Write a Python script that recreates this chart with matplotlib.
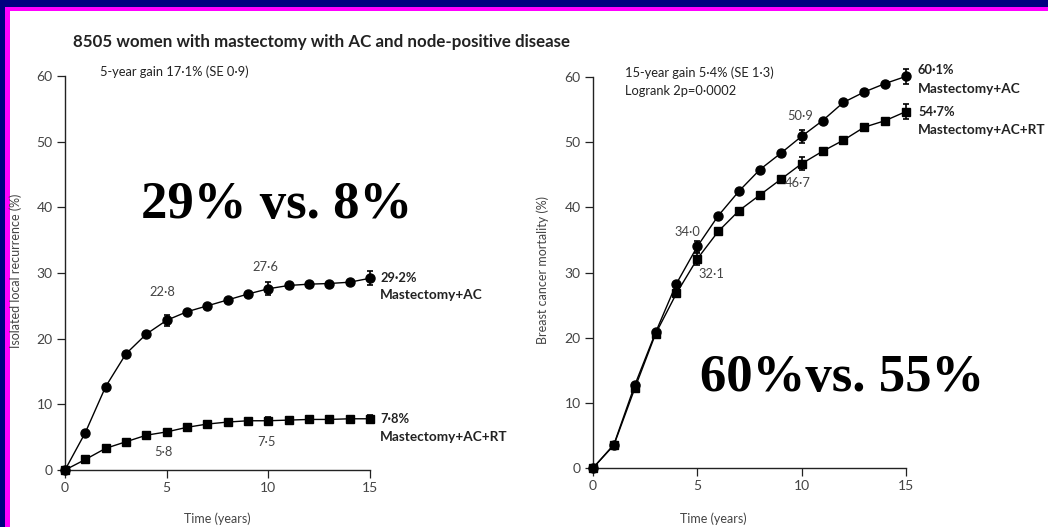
import matplotlib
matplotlib.use("Agg")
import matplotlib.pyplot as plt
from matplotlib.patches import Rectangle

W, H = 1048, 527
DPI = 100

years = list(range(0, 16))

# Isolated local recurrence (%)
lr_ac = [0, 5.7, 12.7, 17.7, 20.7, 22.8, 24.1, 25.0, 25.9, 26.8, 27.6, 28.1, 28.3, 28.4, 28.6, 29.2]
lr_rt = [0, 1.6, 3.3, 4.3, 5.3, 5.8, 6.5, 7.0, 7.3, 7.5, 7.5, 7.6, 7.7, 7.7, 7.8, 7.8]
lr_err_years = [5, 10, 15]
lr_ac_se = [0.8, 1.0, 1.1]
lr_rt_se = [0.4, 0.5, 0.6]

# Breast cancer mortality (%)
bc_ac = [0, 3.6, 12.7, 20.8, 28.3, 34.0, 38.7, 42.5, 45.8, 48.3, 50.9, 53.3, 56.1, 57.7, 59.0, 60.1]
bc_rt = [0, 3.5, 12.2, 20.6, 26.8, 32.1, 36.3, 39.5, 41.9, 44.3, 46.7, 48.6, 50.3, 52.3, 53.3, 54.7]
bc_err_years = [5, 10, 15]
bc_ac_se = [0.8, 1.0, 1.1]
bc_rt_se = [0.9, 1.0, 1.1]

xticks = [0, 5, 10, 15]
yticks = [0, 10, 20, 30, 40, 50, 60]

SANS = "Lato"
TXT = "#222222"
TICK = "#444444"

fig = plt.figure(figsize=(W / DPI, H / DPI), dpi=DPI)
fig.patch.set_facecolor("white")


def px(x, y):
    return x / W, 1 - y / H


# Slide frame: navy outer band and magenta inner band on top and left
fig.patches.append(Rectangle((0, 1 - 11 / H), 1, 11 / H, transform=fig.transFigure,
                             facecolor="#ff00ff", edgecolor="none", zorder=0))
fig.patches.append(Rectangle((0, 0), 10 / W, 1, transform=fig.transFigure,
                             facecolor="#ff00ff", edgecolor="none", zorder=0))
fig.patches.append(Rectangle((0, 1 - 7 / H), 1, 7 / H, transform=fig.transFigure,
                             facecolor="#000080", edgecolor="none", zorder=1))
fig.patches.append(Rectangle((0, 0), 5 / W, 1, transform=fig.transFigure,
                             facecolor="#000080", edgecolor="none", zorder=1))


def make_axes(x0, x1, y0, y60):
    ax = fig.add_axes([x0 / W, 1 - y0 / H, (x1 - x0) / W, (y0 - y60) / H])
    ax.set_xlim(0, 15)
    ax.set_ylim(0, 60)
    for s in ("top", "right"):
        ax.spines[s].set_visible(False)
    for s in ("left", "bottom"):
        ax.spines[s].set_linewidth(1.0)
        ax.spines[s].set_color("#222222")
    ax.set_xticks(xticks)
    ax.set_yticks(yticks)
    ax.tick_params(direction="out", length=6, width=0.9, colors="#222222",
                   labelcolor=TICK, labelsize=10, pad=3)
    for lab in ax.get_xticklabels() + ax.get_yticklabels():
        lab.set_fontfamily(SANS)
    ax.set_facecolor("none")
    return ax


def draw_series(ax, ys, marker, ms, err_years, err_vals):
    ax.plot(years, ys, color="black", lw=1.0, marker=marker, ms=ms,
            mfc="black", mec="black", clip_on=False, zorder=3)
    ey = [ys[years.index(y)] for y in err_years]
    ax.errorbar(err_years, ey, yerr=err_vals, fmt="none", ecolor="black",
                elinewidth=1.2, capsize=2.5, capthick=1.2, clip_on=False, zorder=3)


def ftext(x, y, s, **kw):
    kw.setdefault("fontfamily", SANS)
    kw.setdefault("color", TXT)
    kw.setdefault("va", "center")
    fig.text(*px(x, y), s, **kw)


# Left panel: isolated local recurrence
ax1 = make_axes(65, 370, 470, 76)
draw_series(ax1, lr_ac, "o", 6.5, lr_err_years, lr_ac_se)
draw_series(ax1, lr_rt, "s", 5.8, lr_err_years, lr_rt_se)
ftext(16, 271, "Isolated local recurrence (%)", fontsize=9, color=TICK,
      rotation=90, ha="center")
ftext(217, 519, "Time (years)", fontsize=9, color=TICK, ha="center")

# Right panel: breast cancer mortality
ax2 = make_axes(593, 906, 468, 77)
draw_series(ax2, bc_ac, "o", 6.5, bc_err_years, bc_ac_se)
draw_series(ax2, bc_rt, "s", 5.8, bc_err_years, bc_rt_se)
ftext(543, 270, "Breast cancer mortality (%)", fontsize=9, color=TICK,
      rotation=90, ha="center")
ftext(713, 519, "Time (years)", fontsize=9, color=TICK, ha="center")

ftext(73, 42, "8505 women with mastectomy with AC and node-positive disease",
      fontsize=12.2, fontweight="bold")
ftext(100, 72, "5-year gain 17·1% (SE 0·9)", fontsize=9.3)
ftext(625, 73, "15-year gain 5·4% (SE 1·3)", fontsize=9.3)
ftext(625, 91, "Logrank 2p=0·0002", fontsize=9.3)


# Point value labels (data coordinates)
def alabel(ax, x, y, s, dx, dy, ha="center"):
    ax.annotate(s, (x, y), xytext=(dx, dy), textcoords="offset pixels",
                ha=ha, va="center", fontsize=9.3, fontfamily=SANS, color=TICK)


alabel(ax1, 5, lr_ac[5], "22·8", -4, 28)
alabel(ax1, 10, lr_ac[10], "27·6", -3, 22)
alabel(ax1, 5, lr_rt[5], "5·8", -3, -20)
alabel(ax1, 10, lr_rt[10], "7·5", -2, -21)
alabel(ax2, 5, bc_ac[5], "34·0", -10, 14)
alabel(ax2, 5, bc_rt[5], "32·1", 14, -15)
alabel(ax2, 10, bc_ac[10], "50·9", -2, 20)
alabel(ax2, 9, bc_rt[9], "46·7", 4, -4, ha="left")


# End-of-curve labels
def endlabel(ax, yv, value, name, dx, dy_val, dy_name):
    ax.annotate(value, (15, yv), xytext=(dx, dy_val), textcoords="offset pixels",
                ha="left", va="center", fontsize=9.3, fontweight="bold",
                fontfamily=SANS, color=TXT, annotation_clip=False)
    ax.annotate(name, (15, yv), xytext=(dx, dy_name), textcoords="offset pixels",
                ha="left", va="center", fontsize=9.8, fontweight="bold",
                fontfamily=SANS, color=TXT, annotation_clip=False)


endlabel(ax1, lr_ac[15], "29·2%", "Mastectomy+AC", 10, 0, -17)
endlabel(ax1, lr_rt[15], "7·8%", "Mastectomy+AC+RT", 10, 0, -18)
endlabel(ax2, bc_ac[15], "60·1%", "Mastectomy+AC", 12, 6, -13)
endlabel(ax2, bc_rt[15], "54·7%", "Mastectomy+AC+RT", 12, 0, -18)

# Headline comparisons
ftext(277, 205, "29% vs. 8%", fontfamily="Liberation Serif", fontsize=38,
      fontweight="bold", color="black", ha="center")
ftext(842, 378, "60%vs. 55%", fontfamily="Liberation Serif", fontsize=38,
      fontweight="bold", color="black", ha="center")

fig.savefig("out.png", dpi=DPI, facecolor=fig.get_facecolor())
